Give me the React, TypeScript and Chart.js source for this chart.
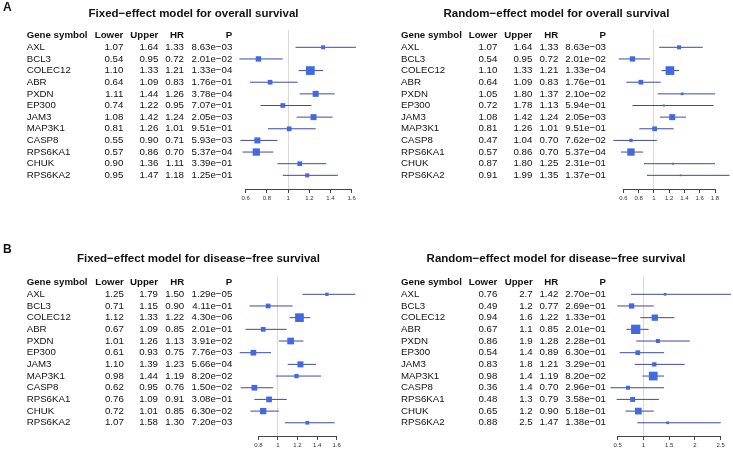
import React, { useEffect, useRef } from 'react';
import { Chart, registerables } from 'chart.js';
Chart.register(...registerables);

// ---------------- DATA ----------------
const genes = ['AXL', 'BCL3', 'COLEC12', 'ABR', 'PXDN', 'EP300', 'JAM3', 'MAP3K1', 'CASP8', 'RPS6KA1', 'CHUK', 'RPS6KA2'];

// Fixed-effect, overall survival
const osFixedLower = [1.07, 0.54, 1.10, 0.64, 1.11, 0.74, 1.08, 0.81, 0.55, 0.57, 0.90, 0.95];
const osFixedUpper = [1.64, 0.95, 1.33, 1.09, 1.44, 1.22, 1.42, 1.26, 0.90, 0.86, 1.36, 1.47];
const osFixedHR = [1.33, 0.72, 1.21, 0.83, 1.26, 0.95, 1.24, 1.01, 0.71, 0.70, 1.11, 1.18];
const osFixedP = [8.63e-3, 2.01e-2, 1.33e-4, 1.76e-1, 3.78e-4, 7.07e-1, 2.05e-3, 9.51e-1, 5.93e-3, 5.37e-4, 3.39e-1, 1.25e-1];
const osFixedWeight = [4.0, 5.4, 8.7, 4.7, 6.0, 4.7, 6.0, 4.7, 6.0, 7.3, 4.7, 4.0];
const osFixedTicks = [0.6, 0.8, 1, 1.2, 1.4, 1.6];

// Random-effect, overall survival
const osRandomLower = [1.07, 0.54, 1.10, 0.64, 1.05, 0.72, 1.08, 0.81, 0.47, 0.57, 0.87, 0.91];
const osRandomUpper = [1.64, 0.95, 1.33, 1.09, 1.80, 1.78, 1.42, 1.26, 1.04, 0.86, 1.80, 1.99];
const osRandomHR = [1.33, 0.72, 1.21, 0.83, 1.37, 1.13, 1.24, 1.01, 0.70, 0.70, 1.25, 1.35];
const osRandomP = [8.63e-3, 2.01e-2, 1.33e-4, 1.76e-1, 2.10e-2, 5.94e-1, 2.05e-3, 9.51e-1, 7.62e-2, 5.37e-4, 2.31e-1, 1.37e-1];
const osRandomWeight = [4.0, 5.3, 8.7, 4.7, 2.7, 2.0, 6.0, 4.7, 3.3, 7.3, 2.0, 1.8];
const osRandomTicks = [0.6, 0.8, 1, 1.2, 1.4, 1.6, 1.8];

// Fixed-effect, disease-free survival
const dfsFixedLower = [1.25, 0.71, 1.12, 0.67, 1.01, 0.61, 1.10, 0.98, 0.62, 0.76, 0.72, 1.07];
const dfsFixedUpper = [1.79, 1.15, 1.33, 1.09, 1.26, 0.93, 1.39, 1.44, 0.95, 1.09, 1.01, 1.58];
const dfsFixedHR = [1.50, 0.90, 1.22, 0.85, 1.13, 0.75, 1.23, 1.19, 0.76, 0.91, 0.85, 1.30];
const dfsFixedP = [1.29e-5, 4.11e-1, 4.30e-6, 2.01e-1, 3.91e-2, 7.76e-3, 5.66e-4, 8.20e-2, 1.50e-2, 3.08e-1, 6.30e-2, 7.20e-3];
const dfsFixedWeight = [3.3, 4.7, 8.7, 4.7, 6.7, 5.7, 6.0, 4.3, 5.7, 5.7, 6.3, 3.7];
const dfsFixedTicks = [0.8, 1, 1.2, 1.4, 1.6];

// Random-effect, disease-free survival
const dfsRandomLower = [0.76, 0.49, 0.94, 0.67, 0.86, 0.54, 0.83, 0.98, 0.36, 0.48, 0.65, 0.88];
const dfsRandomUpper = [2.7, 1.2, 1.6, 1.1, 1.9, 1.4, 1.8, 1.4, 1.4, 1.3, 1.2, 2.5];
const dfsRandomHR = [1.42, 0.77, 1.22, 0.85, 1.28, 0.89, 1.21, 1.19, 0.70, 0.79, 0.90, 1.47];
const dfsRandomP = [2.70e-1, 2.69e-1, 1.33e-1, 2.01e-1, 2.28e-1, 6.30e-1, 3.29e-1, 8.20e-2, 2.96e-1, 3.58e-1, 5.18e-1, 1.38e-1];
const dfsRandomWeight = [2.7, 5.3, 6.3, 9.3, 4.0, 4.7, 4.3, 8.7, 4.0, 5.0, 6.7, 2.7];
const dfsRandomTicks = [0.5, 1, 1.5, 2, 2.5];

// ---------------- STYLE ----------------
const FONT = '"Liberation Sans", Arial, Helvetica, sans-serif';
const BOX_COLOR = 'rgb(65,105,225)';
const LINE_COLOR = 'rgb(62,74,160)';
const REF_COLOR = '#d9d9d9';
const AXIS_COLOR = '#444';
const AXIS_H = 14;

const fmt2 = (v: number) => v.toFixed(2);
const fmtSig2 = (v: number) => v.toPrecision(2);
const fmtP = (p: number) => {
  const [m, e] = p.toExponential(2).split('e');
  const n = parseInt(e, 10);
  return `${m}e${n < 0 ? '\u2212' : '+'}${String(Math.abs(n)).padStart(2, '0')}`;
};
const fmtTick = (v: number) => String(Number(Number(v).toFixed(2)));

type Panel = {
  left: number; top: number; width: number; height: number;
  title: string; titleX: number; titleY: number;
  tag?: string; tagY?: number;
  lower: number[]; upper: number[]; hr: number[]; p: number[]; weight: number[]; ticks: number[];
  upperFmt: (v: number) => string;
  tickLeftPx: number; tickRightPx: number; plotMin: number; plotMax: number;
  rowTop: number; rowStep: number; axisY: number;
  cols: { gene: number; lower: number; upper: number; hr: number; p: number };
};

const panels: Panel[] = [
  {
    left: 0, top: 0, width: 366, height: 225,
    title: 'Fixed\u2212effect model for overall survival', titleX: 193.5, titleY: 13.5,
    tag: 'A', tagY: 7.5,
    lower: osFixedLower, upper: osFixedUpper, hr: osFixedHR, p: osFixedP, weight: osFixedWeight, ticks: osFixedTicks,
    upperFmt: fmt2,
    tickLeftPx: 245.7, tickRightPx: 351.7, plotMin: 0.55, plotMax: 1.65,
    rowTop: 47.3, rowStep: 11.64, axisY: 189,
    cols: { gene: 26.7, lower: 123.3, upper: 158.3, hr: 184, p: 232.3 },
  },
  {
    left: 366, top: 0, width: 367, height: 225,
    title: 'Random\u2212effect model for overall survival', titleX: 190.5, titleY: 13.5,
    lower: osRandomLower, upper: osRandomUpper, hr: osRandomHR, p: osRandomP, weight: osRandomWeight, ticks: osRandomTicks,
    upperFmt: fmt2,
    tickLeftPx: 257.3, tickRightPx: 349, plotMin: 0.5, plotMax: 1.9,
    rowTop: 47.3, rowStep: 11.64, axisY: 189,
    cols: { gene: 35, lower: 131.3, upper: 166.3, hr: 192.3, p: 240 },
  },
  {
    left: 0, top: 225, width: 366, height: 225,
    title: 'Fixed\u2212effect model for disease\u2212free survival', titleX: 198.5, titleY: 33.5,
    tag: 'B', tagY: 24.5,
    lower: dfsFixedLower, upper: dfsFixedUpper, hr: dfsFixedHR, p: dfsFixedP, weight: dfsFixedWeight, ticks: dfsFixedTicks,
    upperFmt: fmt2,
    tickLeftPx: 258.3, tickRightPx: 336.7, plotMin: 0.6, plotMax: 1.8,
    rowTop: 69.3, rowStep: 11.68, axisY: 211,
    cols: { gene: 26.7, lower: 123.8, upper: 158, hr: 184.2, p: 232.3 },
  },
  {
    left: 366, top: 225, width: 367, height: 225,
    title: 'Random\u2212effect model for disease\u2212free survival', titleX: 190, titleY: 33.5,
    lower: dfsRandomLower, upper: dfsRandomUpper, hr: dfsRandomHR, p: dfsRandomP, weight: dfsRandomWeight, ticks: dfsRandomTicks,
    upperFmt: fmtSig2,
    tickLeftPx: 251.7, tickRightPx: 354.7, plotMin: 0.4, plotMax: 2.6,
    rowTop: 69.3, rowStep: 11.68, axisY: 211,
    cols: { gene: 35, lower: 131.3, upper: 166.7, hr: 192.3, p: 240 },
  },
];

function ForestPanel({ cfg }: { cfg: Panel }) {
  const ref = useRef<HTMLCanvasElement | null>(null);
  useEffect(() => {
    if (!ref.current) return;
    const yMin = -1.5;
    const yMax = (cfg.axisY - cfg.rowTop) / cfg.rowStep;
    const padTop = cfg.rowTop + yMin * cfg.rowStep;
    const padBottom = cfg.height - cfg.axisY - AXIS_H;
    const tMin = cfg.ticks[0];
    const tMax = cfg.ticks[cfg.ticks.length - 1];
    const ppu = (cfg.tickRightPx - cfg.tickLeftPx) / (tMax - tMin);
    const padL = cfg.tickLeftPx - (tMin - cfg.plotMin) * ppu;
    const padR = cfg.width - (cfg.tickRightPx + (cfg.plotMax - tMax) * ppu);

    const ciSets = genes.map((g, i) => ({
      label: g,
      data: [{ x: cfg.lower[i], y: i }, { x: cfg.upper[i], y: i }],
      showLine: true,
      borderColor: LINE_COLOR,
      borderWidth: 1,
      pointRadius: 0,
      clip: false as any,
      order: 2,
    }));
    const boxSet = {
      label: 'HR',
      data: genes.map((g, i) => ({ x: cfg.hr[i], y: i })),
      pointStyle: 'rect',
      pointRadius: cfg.weight.map((w) => w / Math.SQRT2),
      backgroundColor: BOX_COLOR,
      borderWidth: 0,
      clip: false as any,
      order: 1,
    };

    const tablePlugin = {
      id: 'forestTable',
      beforeDatasetsDraw(chart: any) {
        const { ctx, chartArea } = chart;
        const xs = chart.scales.x;
        const x1 = xs.getPixelForValue(1);
        ctx.save();
        ctx.strokeStyle = REF_COLOR;
        ctx.lineWidth = 1;
        ctx.beginPath();
        ctx.moveTo(Math.round(x1 - 0.5) + 0.5, chartArea.top);
        ctx.lineTo(Math.round(x1 - 0.5) + 0.5, chartArea.bottom);
        ctx.stroke();
        // axis line spanning first to last tick
        const by = Math.round(chartArea.bottom - 0.5) + 0.5;
        const xa = Math.round(xs.getPixelForValue(tMin) - 0.5) + 0.5;
        const xb = Math.round(xs.getPixelForValue(tMax) - 0.5) + 0.5;
        ctx.strokeStyle = AXIS_COLOR;
        ctx.beginPath();
        ctx.moveTo(xa - 0.5, by);
        ctx.lineTo(xb + 0.5, by);
        ctx.stroke();
        ctx.restore();
      },
      afterDraw(chart: any) {
        const ctx = chart.ctx;
        const ys = chart.scales.y;
        const c = cfg.cols;
        ctx.save();
        ctx.fillStyle = '#111';
        ctx.textBaseline = 'middle';
        if (cfg.tag) {
          ctx.font = `bold 12px ${FONT}`;
          ctx.textAlign = 'left';
          ctx.fillText(cfg.tag, 3, cfg.tagY);
        }
        ctx.font = `bold 11.5px ${FONT}`;
        ctx.textAlign = 'center';
        ctx.fillText(cfg.title, cfg.titleX, cfg.titleY);
        const hy = ys.getPixelForValue(-1);
        ctx.font = `bold 9.7px ${FONT}`;
        ctx.textAlign = 'left';
        ctx.fillText('Gene symbol', c.gene, hy);
        ctx.textAlign = 'right';
        ctx.fillText('Lower', c.lower, hy);
        ctx.fillText('Upper', c.upper, hy);
        ctx.fillText('HR', c.hr, hy);
        ctx.fillText('P', c.p, hy);
        ctx.font = `9.7px ${FONT}`;
        genes.forEach((g, i) => {
          const y = ys.getPixelForValue(i);
          ctx.textAlign = 'left';
          ctx.fillText(g, c.gene, y);
          ctx.textAlign = 'right';
          ctx.fillText(fmt2(cfg.lower[i]), c.lower, y);
          ctx.fillText(cfg.upperFmt(cfg.upper[i]), c.upper, y);
          ctx.fillText(fmt2(cfg.hr[i]), c.hr, y);
          ctx.fillText(fmtP(cfg.p[i]), c.p, y);
        });
        ctx.restore();
      },
    };

    const chart = new Chart(ref.current, {
      type: 'scatter',
      data: { datasets: [boxSet as any, ...ciSets] },
      options: {
        responsive: false,
        animation: false,
        events: [],
        layout: { padding: { left: padL, right: padR, top: padTop, bottom: padBottom } },
        plugins: { legend: { display: false }, tooltip: { enabled: false }, title: { display: false } },
        scales: {
          x: {
            type: 'linear',
            min: cfg.plotMin,
            max: cfg.plotMax,
            afterBuildTicks: (s: any) => { s.ticks = cfg.ticks.map((v) => ({ value: v })); },
            ticks: {
              autoSkip: false,
              maxRotation: 0,
              padding: 2,
              color: '#333',
              font: { size: 6, family: FONT },
              callback: (v: any) => fmtTick(Number(v)),
            },
            grid: { display: true, drawOnChartArea: false, drawTicks: true, tickLength: 4, color: AXIS_COLOR, lineWidth: 1 },
            border: { display: false },
            afterFit: (s: any) => { s.height = AXIS_H; },
          },
          y: { type: 'linear', display: false, min: yMin, max: yMax, reverse: true },
        },
      },
      plugins: [tablePlugin],
    });
    return () => chart.destroy();
  }, [cfg]);
  return (
    <canvas
      ref={ref}
      width={cfg.width}
      height={cfg.height}
      style={{ position: 'absolute', left: cfg.left, top: cfg.top, width: cfg.width, height: cfg.height }}
    />
  );
}

export default function App() {
  return (
    <div style={{ position: 'absolute', left: 0, top: 0, width: 733, height: 450, background: '#fff', overflow: 'hidden' }}>
      {panels.map((p, i) => (
        <ForestPanel key={i} cfg={p} />
      ))}
    </div>
  );
}
